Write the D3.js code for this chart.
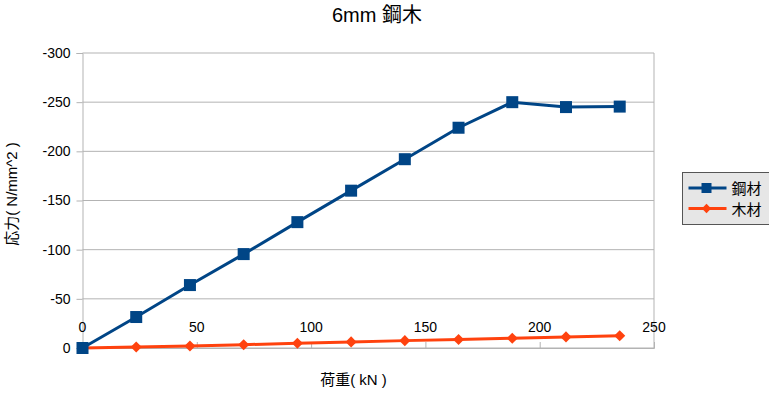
<!DOCTYPE html>
<html>
<head>
<meta charset="utf-8">
<script src="https://cdn.jsdelivr.net/npm/d3@7"></script>
<style>
  body { margin: 0; background: #fff; }
  text { font-family: "Liberation Sans", "Noto Sans CJK JP", sans-serif; fill: #000; }
</style>
</head>
<body>
<svg id="chart" width="769" height="398"></svg>
<script>
// data
const loads = [0, 23.5, 47, 70.5, 94, 117.5, 141, 164.5, 188, 211.5, 235];
const steel = [0, -31.5, -64, -95.5, -128, -160, -192, -224, -250, -245, -245.5];
const wood = [0, -1, -2, -3.4, -4.8, -6.2, -7.5, -8.6, -10, -11.3, -12.4];
const xTicks = [0, 50, 100, 150, 200, 250];
const yTicks = [0, -50, -100, -150, -200, -250, -300];
const seriesNames = ['鋼材', '木材'];
const colors = ['#004586', '#ff420e'];

const svg = d3.select('#chart');
const plotL = 82.5, plotR = 654, plotT = 53, plotB = 348;

const x = d3.scaleLinear().domain([0, 250]).range([plotL, plotR]);
const y = d3.scaleLinear().domain([0, -300]).range([plotB, plotT]);

// horizontal grid
svg.append('g')
  .selectAll('line')
  .data(yTicks)
  .enter().append('line')
  .attr('x1', plotL).attr('x2', plotR)
  .attr('y1', d => y(d)).attr('y2', d => y(d))
  .attr('stroke', '#b3b3b3').attr('stroke-width', 1);

// right border
svg.append('line')
  .attr('x1', plotR).attr('x2', plotR).attr('y1', plotT).attr('y2', plotB)
  .attr('stroke', '#b3b3b3');

// y axis
const yAxis = d3.axisLeft(y).tickValues(yTicks).tickSize(6).tickPadding(6)
  .tickFormat(d => String(d));
const yg = svg.append('g').attr('transform', `translate(${plotL},0)`).call(yAxis);
yg.select('.domain').attr('stroke', '#b3b3b3');
yg.selectAll('.tick line').attr('stroke', '#b3b3b3');
yg.selectAll('text').style('font-size', '14px').style('font-family', '"Liberation Sans", sans-serif').attr('fill', '#000');

// x axis ticks pointing up from the bottom line
const xAxis = d3.axisTop(x).tickValues(xTicks).tickSize(6).tickFormat('');
const xg = svg.append('g').attr('transform', `translate(0,${plotB})`).call(xAxis);
xg.select('.domain').attr('stroke', '#b3b3b3');
xg.selectAll('.tick line').attr('stroke', '#b3b3b3');

// x tick labels sit above the axis line
svg.append('g')
  .selectAll('text')
  .data(xTicks)
  .enter().append('text')
  .attr('x', d => x(d))
  .attr('y', plotB - 16)
  .attr('text-anchor', 'middle')
  .style('font-size', '14px')
  .text(d => d);

// lines
const line = d3.line().x((d, i) => x(loads[i])).y(d => y(d));

svg.append('path').datum(wood)
  .attr('d', line).attr('fill', 'none')
  .attr('stroke', colors[1]).attr('stroke-width', 3).attr('stroke-linejoin', 'round');

svg.append('g').selectAll('path')
  .data(wood)
  .enter().append('path')
  .attr('d', d3.symbol().type(d3.symbolDiamond2).size(78))
  .attr('transform', (d, i) => `translate(${x(loads[i])},${y(d)})`)
  .attr('fill', colors[1]);

svg.append('path').datum(steel)
  .attr('d', line).attr('fill', 'none')
  .attr('stroke', colors[0]).attr('stroke-width', 3).attr('stroke-linejoin', 'round');

svg.append('g').selectAll('rect')
  .data(steel)
  .enter().append('rect')
  .attr('x', (d, i) => x(loads[i]) - 6)
  .attr('y', d => y(d) - 6)
  .attr('width', 12).attr('height', 12)
  .attr('fill', colors[0]);

// titles
svg.append('text')
  .attr('x', 377).attr('y', 22)
  .attr('text-anchor', 'middle')
  .style('font-size', '20px')
  .text('6mm 鋼木');

svg.append('text')
  .attr('x', 353.5).attr('y', 385)
  .attr('text-anchor', 'middle')
  .style('font-size', '15px')
  .text('荷重( kN )');

svg.append('text')
  .attr('transform', 'translate(17,194) rotate(-90)')
  .attr('text-anchor', 'middle')
  .style('font-size', '15px')
  .text('応力( N/mm^2 )');

// legend
const lg = svg.append('g').attr('transform', 'translate(682.5,172.5)');
lg.append('rect')
  .attr('width', 90).attr('height', 52)
  .attr('fill', '#e6e6e6').attr('stroke', '#555').attr('stroke-width', 1);

seriesNames.forEach((name, i) => {
  const cy = 15.5 + i * 20.5;
  lg.append('line')
    .attr('x1', 6).attr('x2', 44).attr('y1', cy).attr('y2', cy)
    .attr('stroke', colors[i]).attr('stroke-width', 3);
  if (i === 0) {
    lg.append('rect').attr('x', 19).attr('y', cy - 5).attr('width', 10).attr('height', 10).attr('fill', colors[i]);
  } else {
    lg.append('path')
      .attr('d', d3.symbol().type(d3.symbolDiamond2).size(55))
      .attr('transform', `translate(24,${cy})`)
      .attr('fill', colors[i]);
  }
  lg.append('text')
    .attr('x', 49).attr('y', cy + 6)
    .style('font-size', '15px')
    .text(name);
});
</script>
</body>
</html>
